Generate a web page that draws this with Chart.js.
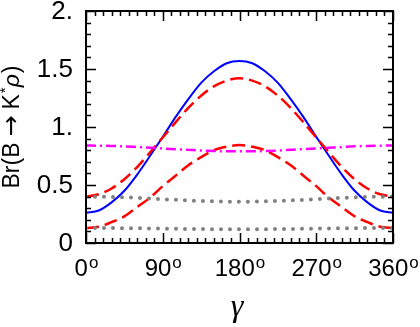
<html>
<head>
<script src="https://cdn.jsdelivr.net/npm/chart.js@4/dist/chart.umd.min.js"></script>
<style>body{margin:0;background:#fff}</style>
</head>
<body>
<canvas id="c" width="420" height="327"></canvas>
<script>
// gamma in degrees
const angles = [0,15,30,45,60,75,90,105,120,135,150,165,180,195,210,225,240,255,270,285,300,315,330,345,360];
const blue = [0.26,0.28,0.35,0.45,0.59,0.75,0.915,1.085,1.24,1.38,1.48,1.55,1.57,1.55,1.48,1.38,1.24,1.085,0.915,0.75,0.59,0.45,0.35,0.28,0.26];
const redUpper = [0.40,0.42,0.47,0.55,0.655,0.78,0.91,1.04,1.165,1.27,1.35,1.40,1.42,1.40,1.35,1.27,1.165,1.04,0.91,0.78,0.655,0.55,0.47,0.42,0.40];
const redLower = [0.13,0.14,0.18,0.23,0.31,0.39,0.49,0.58,0.67,0.74,0.80,0.83,0.845,0.83,0.80,0.74,0.67,0.58,0.49,0.39,0.31,0.23,0.18,0.14,0.13];
const magenta = [0.84,0.839,0.837,0.833,0.827,0.821,0.815,0.809,0.803,0.797,0.793,0.791,0.79,0.791,0.793,0.797,0.803,0.809,0.815,0.821,0.827,0.833,0.837,0.839,0.84];
const grayUpper = [0.40,0.399,0.397,0.394,0.389,0.384,0.378,0.372,0.367,0.362,0.359,0.357,0.356,0.357,0.359,0.362,0.367,0.372,0.378,0.384,0.389,0.394,0.397,0.399,0.40];
const grayLower = [0.13,0.13,0.129,0.128,0.127,0.125,0.124,0.122,0.121,0.12,0.119,0.118,0.118,0.118,0.119,0.12,0.121,0.122,0.124,0.125,0.127,0.128,0.129,0.13,0.13];

const xTicks = [0,90,180,270,360];
const xTickLabels = ['0','90','180','270','360'];
const yTicks = [0,0.5,1,1.5,2];
const yTickLabels = ['0','0.5','1.','1.5','2.'];

const pts = arr => arr.map((v,i) => ({x: angles[i], y: v}));

const sans = "'Liberation Sans', Arial, sans-serif";

const frame = {
  id: 'frame',
  afterDraw(chart) {
    const ctx = chart.ctx, a = chart.chartArea;
    const xs = chart.scales.x, ys = chart.scales.y;
    ctx.save();
    ctx.strokeStyle = '#000';
    ctx.lineWidth = 2;
    ctx.strokeRect(a.left, a.top, a.right - a.left, a.bottom - a.top);
    ctx.lineWidth = 1.5;
    ctx.beginPath();
    for (let i = 0; i <= 20; i++) {
      const y = Math.round(ys.getPixelForValue(i / 10)) + 0.5;
      const len = i % 5 === 0 ? 10 : 5;
      ctx.moveTo(a.left, y); ctx.lineTo(a.left + len, y);
      ctx.moveTo(a.right, y); ctx.lineTo(a.right - len, y);
    }
    for (let d = 0; d <= 360; d += 10) {
      const x = Math.round(xs.getPixelForValue(d)) + 0.5;
      const len = d % 90 === 0 ? 10 : 5;
      ctx.moveTo(x, a.bottom); ctx.lineTo(x, a.bottom - len);
      ctx.moveTo(x, a.top); ctx.lineTo(x, a.top + len);
    }
    ctx.stroke();

    ctx.fillStyle = '#000';
    // y tick labels
    ctx.font = '26px ' + sans;
    ctx.textAlign = 'right';
    ctx.textBaseline = 'middle';
    yTicks.forEach((v, i) => ctx.fillText(yTickLabels[i], a.left - 13, ys.getPixelForValue(v) + 1));
    // x tick labels with superscript o
    ctx.textAlign = 'left';
    ctx.textBaseline = 'alphabetic';
    xTicks.forEach((v, i) => {
      ctx.font = '24px ' + sans;
      const w1 = ctx.measureText(xTickLabels[i]).width;
      ctx.font = '17px ' + sans;
      const w2 = ctx.measureText('o').width;
      const x0 = xs.getPixelForValue(v) - (w1 + w2) / 2;
      ctx.font = '24px ' + sans;
      ctx.fillText(xTickLabels[i], x0, 276);
      ctx.font = '17px ' + sans;
      ctx.fillText('o', x0 + w1 + 1, 268);
    });
    // x title
    ctx.font = "italic 32px 'Liberation Serif', 'DejaVu Serif', serif";
    ctx.textAlign = 'center';
    ctx.fillText('\u03b3', 237, 316);
    // y title
    const segs = [
      {t: 'Br(B', f: '23px ' + sans, dy: 0, gap: 6},
      {t: '\u2192', f: "25px 'DejaVu Sans', sans-serif", dy: 0, gap: 6},
      {t: 'K', f: '23px ' + sans, dy: 0, gap: 1},
      {t: '*', f: '15px ' + sans, dy: -9, gap: 0},
      {t: '\u03c1', f: 'italic 23px ' + sans, dy: 0, gap: 1},
      {t: ')', f: '23px ' + sans, dy: 0, gap: 0}
    ];
    let total = 0;
    segs.forEach(s => { ctx.font = s.f; s.w = ctx.measureText(s.t).width; total += s.w + s.gap; });
    ctx.translate(19, (a.top + a.bottom) / 2);
    ctx.rotate(-Math.PI / 2);
    ctx.textAlign = 'left';
    let x = -total / 2;
    segs.forEach(s => { ctx.font = s.f; ctx.fillText(s.t, x, s.dy); x += s.w + s.gap; });
    ctx.restore();
  }
};

new Chart(document.getElementById('c'), {
  type: 'line',
  data: {
    datasets: [
      {data: pts(grayUpper), borderColor: '#808080', borderWidth: 4, borderDash: [0, 9], borderCapStyle: 'round'},
      {data: pts(grayLower), borderColor: '#808080', borderWidth: 4, borderDash: [0, 9], borderCapStyle: 'round'},
      {data: pts(magenta), borderColor: '#ff00ff', borderWidth: 2.5, borderDash: [10, 4, 2, 4]},
      {data: pts(redUpper), borderColor: '#ff0000', borderWidth: 2.5, borderDash: [13, 6]},
      {data: pts(redLower), borderColor: '#ff0000', borderWidth: 2.5, borderDash: [13, 6]},
      {data: pts(blue), borderColor: '#0000ff', borderWidth: 2}
    ]
  },
  options: {
    responsive: false,
    animation: false,
    layout: {padding: {left: 86, right: 27, top: 11, bottom: 84}},
    elements: {point: {radius: 0}, line: {cubicInterpolationMode: 'monotone', fill: false}},
    plugins: {legend: {display: false}, tooltip: {enabled: false}},
    scales: {
      x: {type: 'linear', min: 0, max: 360, display: false},
      y: {min: 0, max: 2, display: false}
    }
  },
  plugins: [frame]
});
</script>
</body>
</html>
